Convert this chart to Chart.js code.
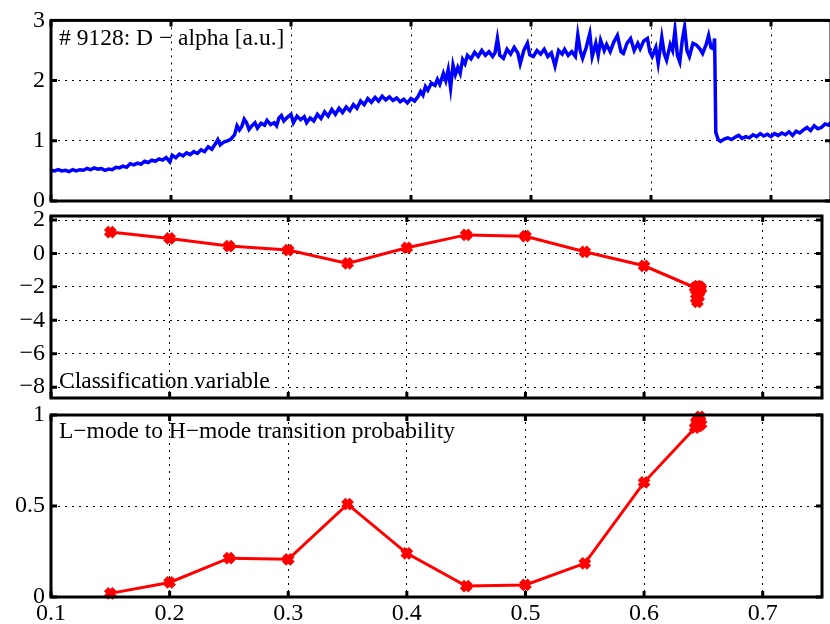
<!DOCTYPE html>
<html>
<head>
<meta charset="utf-8">
<script src="https://cdn.jsdelivr.net/npm/chart.js@4.4.1/dist/chart.umd.min.js"></script>
<style>
  html, body { margin: 0; padding: 0; background: #fff; overflow: hidden; }
  #wrap { position: relative; width: 830px; height: 624px; overflow: hidden; background: #fff; }
  #wrap canvas { position: absolute; left: 0; top: 0; }
</style>
</head>
<body>
<div id="wrap">
  <canvas id="dalpha" width="834" height="624"></canvas>
  <canvas id="classVar" width="834" height="624"></canvas>
  <canvas id="prob" width="834" height="624"></canvas>
</div>
<script>
// shared time axis [s]
const xTicks = [0.1, 0.2, 0.3, 0.4, 0.5, 0.6, 0.7];
const xMin = 0.1;
const xMax = 0.75;

// shot 9128, D-alpha emission [a.u.]
const dalphaTime = [
  0.100, 0.103, 0.106, 0.109, 0.112, 0.115, 0.118, 0.121, 0.124, 0.127,
  0.130, 0.133, 0.136, 0.139, 0.142, 0.145, 0.148, 0.151, 0.154, 0.157,
  0.160, 0.163, 0.166, 0.169, 0.172, 0.175, 0.178, 0.181, 0.184, 0.187,
  0.190, 0.193, 0.196, 0.199, 0.201, 0.204, 0.207, 0.210, 0.213, 0.216,
  0.219, 0.222, 0.225, 0.228, 0.231, 0.234, 0.237, 0.239, 0.241, 0.244,
  0.247, 0.250, 0.253, 0.255, 0.257, 0.259, 0.261, 0.263, 0.265, 0.267,
  0.270, 0.272, 0.275, 0.278, 0.280, 0.283, 0.286, 0.288, 0.290, 0.292,
  0.294, 0.297, 0.300, 0.302, 0.305, 0.308, 0.311, 0.313, 0.316, 0.319,
  0.322, 0.325, 0.328, 0.331, 0.334, 0.337, 0.340, 0.343, 0.346, 0.349,
  0.352, 0.355, 0.358, 0.361, 0.364, 0.367, 0.370, 0.373, 0.376, 0.379,
  0.382, 0.385, 0.388, 0.391, 0.394, 0.397, 0.400, 0.403, 0.406, 0.408,
  0.410, 0.412, 0.414, 0.417, 0.420, 0.422, 0.424, 0.427, 0.429, 0.431,
  0.433, 0.435, 0.437, 0.439, 0.441, 0.443, 0.445, 0.447, 0.450, 0.453,
  0.456, 0.459, 0.462, 0.465, 0.468, 0.470, 0.472, 0.474, 0.477, 0.480,
  0.483, 0.486, 0.489, 0.491, 0.494, 0.497, 0.499, 0.502, 0.505, 0.508,
  0.511, 0.514, 0.517, 0.520, 0.523, 0.526, 0.528, 0.531, 0.534, 0.537,
  0.539, 0.541, 0.543, 0.546, 0.549, 0.551, 0.554, 0.556, 0.558, 0.561,
  0.563, 0.566, 0.569, 0.572, 0.575, 0.577, 0.580, 0.583, 0.586, 0.589,
  0.591, 0.594, 0.597, 0.599, 0.601, 0.604, 0.606, 0.609, 0.611, 0.613,
  0.616, 0.618, 0.620, 0.622, 0.624, 0.626, 0.628, 0.630, 0.632, 0.635,
  0.638, 0.641, 0.643, 0.646, 0.648, 0.650, 0.652, 0.653, 0.654, 0.656,
  0.658, 0.661, 0.664, 0.667, 0.670, 0.673, 0.676, 0.679, 0.682, 0.685,
  0.688, 0.691, 0.694, 0.697, 0.700, 0.703, 0.706, 0.709, 0.712, 0.715,
  0.718, 0.721, 0.724, 0.727, 0.730, 0.733, 0.736, 0.739, 0.742, 0.745,
  0.748, 0.750
];
const dalphaValue = [
  0.51, 0.50, 0.52, 0.50, 0.51, 0.49, 0.52, 0.50, 0.52, 0.51,
  0.54, 0.52, 0.55, 0.53, 0.54, 0.51, 0.53, 0.52, 0.56, 0.55,
  0.58, 0.56, 0.62, 0.60, 0.63, 0.61, 0.66, 0.64, 0.68, 0.66,
  0.70, 0.68, 0.72, 0.65, 0.76, 0.72, 0.78, 0.75, 0.80, 0.77,
  0.82, 0.79, 0.85, 0.82, 0.90, 0.86, 0.95, 1.02, 0.93, 0.98,
  1.00, 1.03, 1.10, 1.25, 1.18, 1.24, 1.36, 1.30, 1.19, 1.24,
  1.30, 1.21, 1.29, 1.26, 1.34, 1.27, 1.30, 1.25, 1.38, 1.42,
  1.33, 1.39, 1.44, 1.30, 1.41, 1.35, 1.40, 1.30, 1.38, 1.33,
  1.44, 1.37, 1.48, 1.41, 1.52, 1.44, 1.54, 1.47, 1.56, 1.50,
  1.60, 1.54, 1.66, 1.60, 1.70, 1.64, 1.72, 1.66, 1.74, 1.68,
  1.73, 1.67, 1.71, 1.65, 1.69, 1.63, 1.70, 1.66, 1.74, 1.82,
  1.76, 1.90, 1.84, 1.96, 1.92, 2.02, 1.94, 2.12, 2.00, 2.18,
  1.88, 2.26, 2.10, 2.22, 2.12, 2.35, 2.28, 2.42, 2.36, 2.47,
  2.40, 2.50, 2.42, 2.48, 2.40, 2.46, 2.70, 2.42, 2.37, 2.52,
  2.44, 2.55, 2.46, 2.28, 2.50, 2.62, 2.43, 2.40, 2.50, 2.44,
  2.52, 2.40, 2.46, 2.24, 2.50, 2.44, 2.52, 2.42, 2.48, 2.40,
  2.76, 2.50, 2.37, 2.55, 2.78, 2.40, 2.62, 2.42, 2.67, 2.50,
  2.60, 2.48, 2.64, 2.75, 2.48, 2.45, 2.62, 2.70, 2.50, 2.62,
  2.53, 2.66, 2.70, 2.48, 2.40, 2.55, 2.29, 2.72, 2.45, 2.34,
  2.60, 2.50, 2.84, 2.42, 2.31, 2.66, 2.89, 2.50, 2.40, 2.62,
  2.59, 2.52, 2.45, 2.60, 2.75, 2.55, 2.53, 2.70, 1.14, 1.02,
  0.99, 1.03, 1.05, 1.02, 1.06, 1.09, 1.04, 1.07, 1.05, 1.10,
  1.07, 1.12, 1.08, 1.11, 1.07, 1.12, 1.09, 1.13, 1.10, 1.15,
  1.09, 1.16, 1.13, 1.18, 1.22, 1.17, 1.25, 1.20, 1.22, 1.28,
  1.26, 1.31
];
const dalphaTicks = [0, 1, 2, 3];

// classifier output at each evaluation time
const classTime = [0.15, 0.2, 0.25, 0.3, 0.35, 0.4, 0.45, 0.5, 0.55, 0.6,
  0.643, 0.645, 0.647, 0.648, 0.646, 0.644, 0.645, 0.644, 0.645, 0.646, 0.647];
const classValue = [1.28, 0.9, 0.44, 0.2, -0.6, 0.34, 1.11, 1.03, 0.1, -0.74,
  -2.05, -1.95, -2.0, -2.1, -2.3, -2.2, -2.5, -2.7, -2.9, -2.6, -2.2];
const classTicks = [-8, -6, -4, -2, 0, 2];

// L-mode to H-mode transition probability
const probTime = [0.15, 0.2, 0.25, 0.3, 0.35, 0.4, 0.45, 0.5, 0.55, 0.6,
  0.643, 0.645, 0.647, 0.648, 0.646, 0.644, 0.647];
const probValue = [0.02, 0.08, 0.213, 0.207, 0.51, 0.24, 0.06, 0.066, 0.185, 0.63,
  0.93, 0.97, 0.99, 0.95, 0.94, 0.96, 0.97];
const probTicks = [0, 0.5, 1];

Chart.defaults.font.family = '"Liberation Serif", "Times New Roman", serif';
Chart.defaults.font.size = 24;
Chart.defaults.color = '#000';

// boxed axes with inward ticks and a caption inside the box
const matlabAxes = {
  id: 'matlabAxes',
  afterDraw(chart, args, opts) {
    const { ctx, chartArea: a, scales } = chart;
    ctx.save();
    ctx.strokeStyle = '#000';
    ctx.lineWidth = 3;
    ctx.strokeRect(a.left, a.top, a.right - a.left, a.bottom - a.top);
    ctx.beginPath();
    scales.x.ticks.forEach(t => {
      const px = scales.x.getPixelForValue(t.value);
      ctx.moveTo(px, a.top); ctx.lineTo(px, a.top + 6);
      ctx.moveTo(px, a.bottom); ctx.lineTo(px, a.bottom - 6);
    });
    scales.y.ticks.forEach(t => {
      const py = scales.y.getPixelForValue(t.value);
      ctx.moveTo(a.left, py); ctx.lineTo(a.left + 6, py);
      ctx.moveTo(a.right, py); ctx.lineTo(a.right - 6, py);
    });
    ctx.stroke();
    if (opts.text) {
      ctx.font = '23.5px "Liberation Serif", serif';
      ctx.fillStyle = '#000';
      ctx.textAlign = 'left';
      ctx.textBaseline = 'alphabetic';
      const y = opts.fromBottom ? a.bottom - opts.offset : a.top + opts.offset;
      ctx.fillText(opts.text, a.left + 8, y);
    }
    ctx.restore();
  }
};

function fmt(v) {
  return String(v).replace('-', '\u2212');
}

function makePanel(id, p) {
  const red = p.color === '#ff0000';
  return new Chart(document.getElementById(id), {
    type: 'scatter',
    data: {
      datasets: [{
        data: p.x.map((x, i) => ({ x, y: p.y[i] })),
        showLine: true,
        borderColor: p.color,
        backgroundColor: p.color,
        borderWidth: red ? 3 : 3.5,
        pointRadius: red ? 6 : 0,
        pointStyle: 'crossRot',
        pointBorderWidth: 6,
        pointBorderColor: p.color,
        clip: red ? false : 2
      }]
    },
    options: {
      responsive: false,
      devicePixelRatio: 1,
      animation: false,
      events: [],
      layout: { padding: { left: 0, right: 3, top: p.top, bottom: p.bottom } },
      plugins: {
        legend: { display: false },
        tooltip: { enabled: false },
        matlabAxes: { text: p.caption, offset: p.capOffset, fromBottom: p.capBottom }
      },
      scales: {
        x: {
          type: 'linear',
          min: xMin,
          max: xMax,
          afterBuildTicks: s => { s.ticks = xTicks.map(v => ({ value: v })); },
          afterFit: s => { s.height = p.showX ? 27 : 0; },
          ticks: { display: p.showX, padding: 2, maxRotation: 0, callback: fmt },
          grid: { color: '#000', lineWidth: 1, drawTicks: false },
          border: { display: false, dash: [2, 5] }
        },
        y: {
          min: p.yMin,
          max: p.yMax,
          afterBuildTicks: s => { s.ticks = p.ticks.map(v => ({ value: v })); },
          afterFit: s => { s.width = 51; },
          ticks: { padding: 6, callback: fmt },
          grid: { color: '#000', lineWidth: 1, drawTicks: false },
          border: { display: false, dash: [2, 5] }
        }
      }
    },
    plugins: [matlabAxes]
  });
}

makePanel('dalpha', {
  x: dalphaTime, y: dalphaValue, color: '#0000ff',
  yMin: 0, yMax: 3, ticks: dalphaTicks,
  top: 18, bottom: 423, showX: false,
  caption: '# 9128: D \u2212 alpha [a.u.]', capOffset: 25, capBottom: false
});

makePanel('classVar', {
  x: classTime, y: classValue, color: '#ff0000',
  yMin: -8.65, yMax: 2.24, ticks: classTicks,
  top: 216, bottom: 226, showX: false,
  caption: 'Classification variable', capOffset: 10, capBottom: true
});

makePanel('prob', {
  x: probTime, y: probValue, color: '#ff0000',
  yMin: 0, yMax: 1, ticks: probTicks,
  top: 415, bottom: 0, showX: true,
  caption: 'L\u2212mode to H\u2212mode transition probability', capOffset: 23, capBottom: false
});
</script>
</body>
</html>
